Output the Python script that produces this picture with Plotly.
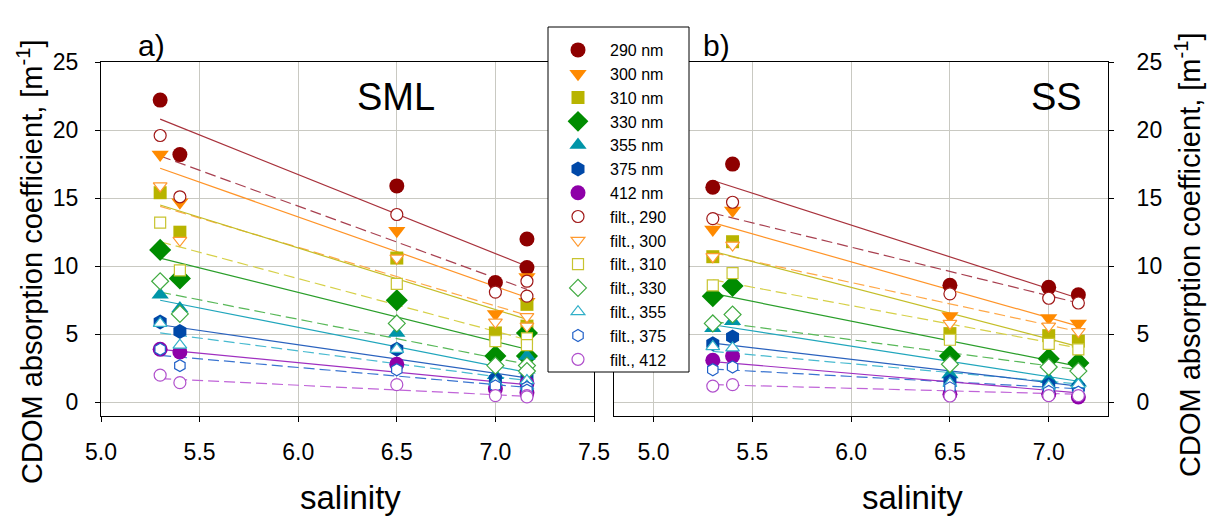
import plotly.graph_objects as go

# ---------------- data ----------------
wavelengths = ["290", "300", "310", "330", "355", "375", "412"]
raw_labels = ["290 nm", "300 nm", "310 nm", "330 nm", "355 nm", "375 nm", "412 nm"]
filt_labels = ["filt., 290", "filt., 300", "filt., 310", "filt., 330",
               "filt., 355", "filt., 375", "filt., 412"]

# salinity of the samples
salinity_sml = [5.3, 5.4, 6.5, 7.0, 7.16, 7.16]
salinity_ss = [5.3, 5.4, 6.5, 7.0, 7.15]

# SML, unfiltered absorption [m-1], one row per wavelength
sml_raw = [
    [22.2, 18.2, 15.9, 8.8, 12.0, 9.9],
    [18.2, 14.7, 12.6, 6.5, 9.2, 7.4],
    [15.4, 12.5, 10.6, 5.1, 7.2, 5.6],
    [11.2, 9.1, 7.5, 3.4, 5.1, 3.4],
    [7.9, 6.9, 5.1, 2.0, 3.4, 2.4],
    [5.9, 5.2, 3.9, 1.7, 1.9, 1.2],
    [3.9, 3.7, 2.8, 1.0, 1.4, 0.7],
]
# SML, filtered
sml_filt = [
    [19.6, 15.1, 13.8, 8.1, 8.9, 7.8],
    [15.9, 11.9, 10.6, 5.9, 6.3, 5.6],
    [13.2, 9.7, 8.7, 4.5, 4.7, 4.2],
    [8.9, 6.5, 5.8, 2.7, 2.7, 2.3],
    [5.8, 4.2, 3.9, 1.5, 1.6, 1.2],
    [3.9, 2.7, 2.4, 1.2, 1.1, 0.9],
    [2.0, 1.45, 1.3, 0.5, 0.5, 0.4],
]
# SS, unfiltered
ss_raw = [
    [15.8, 17.5, 8.6, 8.45, 7.9],
    [12.7, 14.1, 6.35, 6.2, 5.8],
    [10.7, 11.8, 5.05, 4.9, 4.5],
    [7.8, 8.55, 3.4, 3.2, 2.9],
    [5.45, 5.95, 2.05, 1.7, 1.45],
    [4.3, 4.8, 1.55, 1.3, 1.1],
    [3.1, 3.4, 0.6, 0.6, 0.4],
]
# SS, filtered
ss_filt = [
    [13.5, 14.7, 7.97, 7.65, 7.3],
    [10.7, 11.55, 5.8, 5.6, 5.2],
    [8.6, 9.5, 4.6, 4.3, 3.9],
    [5.8, 6.45, 2.8, 2.6, 2.3],
    [4.1, 4.0, 1.4, 1.2, 1.3],
    [2.4, 2.6, 1.07, 0.8, 0.75],
    [1.2, 1.3, 0.47, 0.5, 0.5],
]

# linear regression lines: value at lowest and highest salinity
sml_fit_range = [5.3, 7.16]
ss_fit_range = [5.3, 7.15]
sml_raw_fit = [[20.8, 10.0], [17.2, 7.7], [14.5, 6.1], [10.6, 3.9],
               [7.5, 2.2], [5.7, 1.8], [3.9, 1.3]]
sml_filt_fit = [[18.1, 8.3], [14.4, 6.4], [11.8, 4.6], [8.1, 2.8],
                [5.1, 1.6], [3.45, 1.1], [1.75, 0.45]]
ss_raw_fit = [[16.3, 7.65], [13.2, 5.6], [11.1, 4.1], [8.0, 2.65],
              [5.7, 1.55], [4.35, 1.2], [3.0, 0.7]]
ss_filt_fit = [[13.9, 7.3], [11.0, 5.2], [9.0, 4.0], [5.95, 2.4],
               [3.75, 1.35], [2.45, 1.0], [1.3, 0.6]]

# ---------------- styling ----------------
raw_colors = ["#8E0000", "#FF8A00", "#B8B400", "#008C00", "#0095A8", "#0048A8", "#8E00A8"]
filt_colors = ["#A01818", "#FF9A30", "#C8C430", "#40AA40", "#30AFC8", "#2060C8", "#B050CC"]
raw_line_colors = ["#A8323C", "#FF9428", "#C4BE28", "#2A9E2A", "#20A6BC", "#2A62BE", "#A030C0"]
filt_line_colors = ["#A84050", "#FFA848", "#D6D048", "#58B858", "#48BAD0", "#3A74D0", "#C064D8"]
raw_symbols = ["circle", "triangle-down", "square", "diamond", "triangle-up", "hexagon", "circle"]
raw_sizes = [15, 15, 13, 17, 15, 15, 15]
filt_sizes = [12, 12, 11, 13, 12, 12, 12]

FONT = "Arial, Liberation Sans, sans-serif"
W, H = 1220, 519


def fx(x):
    return x / W


def fy(y):
    return 1 - y / H


fig = go.Figure()

panels = [
    ("x", "y", salinity_sml, sml_raw, sml_filt, sml_fit_range, sml_raw_fit, sml_filt_fit, True),
    ("x2", "y2", salinity_ss, ss_raw, ss_filt, ss_fit_range, ss_raw_fit, ss_filt_fit, False),
]

for xa, ya, sal, raw, filt, frange, rfit, ffit, legend in panels:
    # regression lines underneath the markers
    for i in range(len(wavelengths)):
        fig.add_trace(go.Scatter(
            x=frange, y=rfit[i], xaxis=xa, yaxis=ya, mode="lines",
            line=dict(color=raw_line_colors[i], width=1.2),
            showlegend=False, hoverinfo="skip"))
        fig.add_trace(go.Scatter(
            x=frange, y=ffit[i], xaxis=xa, yaxis=ya, mode="lines",
            line=dict(color=filt_line_colors[i], width=1.2, dash="11px,5px"),
            showlegend=False, hoverinfo="skip"))
    # unfiltered samples: solid symbols
    for i in range(len(wavelengths)):
        fig.add_trace(go.Scatter(
            x=sal, y=raw[i], xaxis=xa, yaxis=ya, mode="markers",
            name=raw_labels[i], legendgroup=raw_labels[i], showlegend=legend,
            marker=dict(symbol=raw_symbols[i], size=raw_sizes[i],
                        color=raw_colors[i], line=dict(width=0))))
    # filtered samples: hollow symbols
    for i in range(len(wavelengths)):
        fig.add_trace(go.Scatter(
            x=sal, y=filt[i], xaxis=xa, yaxis=ya, mode="markers",
            name=filt_labels[i], legendgroup=filt_labels[i], showlegend=legend,
            marker=dict(symbol=raw_symbols[i], size=filt_sizes[i], color="white",
                        line=dict(width=1.2, color=filt_colors[i]))))

axis_common = dict(
    showgrid=True, gridcolor="#C9C9C2", gridwidth=1,
    showline=True, linecolor="black", linewidth=1, mirror=True,
    ticks="outside", ticklen=5, tickcolor="black",
    zeroline=False, automargin=False,
    tickfont=dict(family=FONT, size=23, color="black"),
)

fig.update_layout(
    width=W, height=H,
    margin=dict(l=0, r=0, t=0, b=0, autoexpand=False),
    paper_bgcolor="white", plot_bgcolor="white",
    showlegend=True,
    xaxis=dict(domain=[fx(101), fx(594)], range=[5.0, 7.5], tick0=5.0, dtick=0.5,
               tickformat=".1f", anchor="y", ticklabelstandoff=10, **axis_common),
    yaxis=dict(domain=[fy(416), fy(62)], range=[-1, 25], tick0=0, dtick=5,
               anchor="x", ticklabelstandoff=12, **axis_common),
    xaxis2=dict(domain=[fx(614), fx(1108)], range=[4.8, 7.3], tick0=5.0, dtick=0.5,
                tickformat=".1f", anchor="y2", ticklabelstandoff=10, **axis_common),
    yaxis2=dict(domain=[fy(416), fy(62)], range=[-1, 25], tick0=0, dtick=5,
                anchor="x2", side="right", ticklabelstandoff=18, **axis_common),
    legend=dict(
        x=fx(546), y=fy(33), xanchor="left", yanchor="top",
        bgcolor="rgba(0,0,0,0)", borderwidth=0,
        font=dict(family=FONT, size=16, color="black"),
        itemwidth=54, tracegroupgap=0.6, traceorder="normal",
    ),
    shapes=[dict(type="rect", xref="paper", yref="paper",
                 x0=fx(548), x1=fx(689), y0=fy(372), y1=fy(27),
                 fillcolor="white", line=dict(color="black", width=1),
                 layer="above")],
)

ytitle = "CDOM absorption coefficient, [m<sup>-1</sup>]"
annotations = [
    dict(text="a)", x=fx(151), y=fy(45), size=30),
    dict(text="b)", x=fx(716), y=fy(45), size=30),
    dict(text="SML", x=fx(396), y=fy(97), size=38),
    dict(text="SS", x=fx(1056), y=fy(97), size=38),
    dict(text="salinity", x=fx(350), y=fy(497), size=33),
    dict(text="salinity", x=fx(912), y=fy(497), size=33),
    dict(text=ytitle, x=fx(30), y=fy(262), size=29, angle=-90),
    dict(text=ytitle, x=fx(1188), y=fy(255), size=29, angle=-90),
]
for a in annotations:
    fig.add_annotation(
        text=a["text"], x=a["x"], y=a["y"], xref="paper", yref="paper",
        xanchor="center", yanchor="middle", showarrow=False,
        textangle=a.get("angle", 0),
        font=dict(family=FONT, size=a["size"], color="black"))

fig.write_html("out.html")
